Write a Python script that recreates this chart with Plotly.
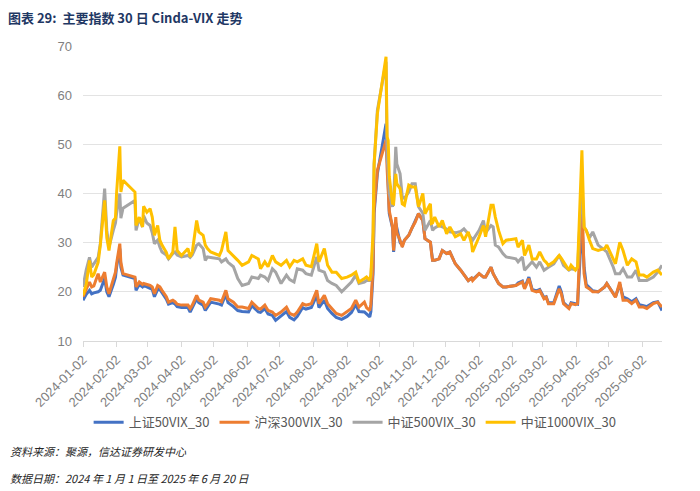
import pandas as pd
import plotly.graph_objects as go

# trading dates sampled from the chart
dates = [
    "2024-01-02", "2024-01-05", "2024-01-08", "2024-01-10", "2024-01-12", "2024-01-16",
    "2024-01-18", "2024-01-22", "2024-01-24", "2024-01-26", "2024-01-30", "2024-02-01",
    "2024-02-02", "2024-02-05", "2024-02-06", "2024-02-08", "2024-02-19", "2024-02-20",
    "2024-02-23", "2024-02-26", "2024-02-27", "2024-03-01", "2024-03-04", "2024-03-06",
    "2024-03-08", "2024-03-11", "2024-03-13", "2024-03-15", "2024-03-19", "2024-03-21",
    "2024-03-25", "2024-03-27", "2024-03-29", "2024-04-02", "2024-04-08", "2024-04-10",
    "2024-04-12", "2024-04-16", "2024-04-18", "2024-04-22", "2024-04-24", "2024-04-26",
    "2024-04-29", "2024-05-07", "2024-05-09", "2024-05-13", "2024-05-15", "2024-05-20",
    "2024-05-24", "2024-05-28", "2024-06-03", "2024-06-06", "2024-06-12", "2024-06-14",
    "2024-06-18", "2024-06-21", "2024-06-25", "2024-06-28", "2024-07-03", "2024-07-08",
    "2024-07-11", "2024-07-15", "2024-07-18", "2024-07-23", "2024-07-26", "2024-07-31",
    "2024-08-05", "2024-08-07", "2024-08-12", "2024-08-15", "2024-08-19", "2024-08-23",
    "2024-08-28", "2024-09-02", "2024-09-06", "2024-09-10", "2024-09-13", "2024-09-18",
    "2024-09-20", "2024-09-23", "2024-09-24", "2024-09-26", "2024-09-27", "2024-09-30",
    "2024-10-08", "2024-10-09", "2024-10-10", "2024-10-11", "2024-10-14", "2024-10-15",
    "2024-10-17", "2024-10-18", "2024-10-21", "2024-10-23", "2024-10-25", "2024-10-29",
    "2024-11-01", "2024-11-04", "2024-11-07", "2024-11-11", "2024-11-13", "2024-11-18",
    "2024-11-19", "2024-11-20", "2024-11-22", "2024-11-26", "2024-11-29", "2024-12-03",
    "2024-12-06", "2024-12-11", "2024-12-16", "2024-12-19", "2024-12-23", "2024-12-26",
    "2024-12-27", "2025-01-02", "2025-01-06", "2025-01-08", "2025-01-13", "2025-01-15",
    "2025-01-17", "2025-01-20", "2025-01-24", "2025-01-27", "2025-02-05", "2025-02-07",
    "2025-02-11", "2025-02-13", "2025-02-17", "2025-02-20", "2025-02-24", "2025-02-27",
    "2025-03-03", "2025-03-05", "2025-03-07", "2025-03-12", "2025-03-17", "2025-03-19",
    "2025-03-21", "2025-03-26", "2025-03-28", "2025-04-01", "2025-04-03", "2025-04-07",
    "2025-04-09", "2025-04-11", "2025-04-14", "2025-04-17", "2025-04-22", "2025-04-28",
    "2025-04-30", "2025-05-06", "2025-05-08", "2025-05-12", "2025-05-15", "2025-05-19",
    "2025-05-23", "2025-05-27", "2025-05-30", "2025-06-03", "2025-06-06", "2025-06-12",
    "2025-06-16", "2025-06-20",
]

sz50 = [
    18.3, 19.5, 20.3, 19.6, 19.8, 20.0, 20.3, 22.7, 20.0, 19.0, 21.5, 23.0,
    25.0, 28.8, 25.0, 23.4, 22.7, 20.3, 21.5, 21.0, 21.3, 21.0, 20.8, 20.5,
    19.0, 20.5, 20.5, 19.8, 18.5, 17.5, 17.8, 17.5, 17.0, 16.8, 16.8, 15.9,
    16.8, 18.6, 17.8, 17.3, 16.2, 17.0, 17.9, 17.5, 17.3, 19.5, 17.8, 17.0,
    16.2, 16.0, 15.9, 17.2, 15.9, 15.8, 16.6, 15.5, 15.2, 14.2, 15.2, 16.0,
    14.8, 14.3, 15.0, 16.8, 16.5, 16.8, 19.3, 16.8, 18.3, 16.6, 15.6, 14.8,
    14.4, 15.0, 15.8, 17.4, 16.0, 15.9, 15.5, 14.9, 16.0, 23.7, 36.0, 44.0,
    54.2, 46.7, 40.0, 35.9, 33.0, 28.1, 34.0, 33.0, 30.0, 29.5, 30.5, 31.5,
    33.0, 34.2, 35.9, 34.5, 30.8, 30.1, 28.0, 26.4, 26.4, 26.7, 28.4, 27.8,
    28.1, 25.7, 24.4, 23.4, 22.3, 22.8, 22.5, 23.7, 23.0, 23.0, 25.0, 23.7,
    23.0, 21.7, 21.0, 21.0, 21.3, 21.8, 22.2, 20.8, 23.0, 20.5, 20.2, 20.5,
    18.8, 19.0, 17.8, 17.8, 21.2, 20.0, 17.8, 16.8, 17.8, 17.5, 17.5, 34.0,
    25.0, 21.5, 20.8, 20.2, 20.0, 21.0, 21.7, 19.8, 19.0, 21.5, 19.0, 18.6,
    18.0, 18.6, 17.4, 17.2, 17.0, 17.8, 18.0, 16.2,
]

hs300 = [
    19.0, 20.5, 22.0, 21.0, 21.2, 23.7, 22.0, 24.0, 21.0, 19.6, 22.3, 24.0,
    25.7, 29.8, 26.0, 23.7, 23.0, 21.0, 22.0, 21.5, 21.7, 21.5, 21.3, 21.0,
    19.6, 21.3, 21.0, 20.3, 19.0, 17.9, 18.3, 18.0, 17.5, 17.3, 17.3, 16.6,
    17.3, 19.3, 18.3, 17.9, 16.9, 17.5, 18.6, 18.3, 18.0, 20.3, 18.6, 17.9,
    16.9, 16.9, 16.6, 17.9, 16.6, 16.5, 17.3, 16.2, 15.9, 15.2, 15.9, 16.9,
    15.6, 15.2, 15.9, 17.6, 17.3, 17.6, 20.3, 17.6, 19.3, 17.6, 16.6, 15.6,
    15.2, 15.9, 16.6, 18.3, 16.9, 17.9, 16.8, 16.2, 17.5, 25.0, 37.0, 44.7,
    50.8, 45.0, 39.3, 36.5, 33.2, 28.4, 35.2, 32.0, 30.5, 29.1, 30.5, 31.5,
    33.0, 34.2, 35.9, 34.5, 30.8, 30.1, 28.0, 26.4, 26.4, 26.7, 28.4, 27.8,
    28.1, 25.7, 24.4, 23.4, 22.3, 22.8, 22.3, 23.7, 23.0, 23.0, 25.0, 23.7,
    23.0, 21.7, 21.0, 21.0, 21.3, 21.5, 22.0, 20.6, 22.7, 20.3, 20.0, 20.3,
    18.6, 18.9, 17.6, 17.6, 20.6, 19.6, 17.6, 16.6, 17.6, 17.4, 17.6, 40.0,
    23.7, 21.0, 20.6, 20.0, 20.0, 21.0, 21.7, 19.6, 18.9, 22.0, 18.3, 18.3,
    17.6, 18.3, 16.9, 16.9, 16.6, 17.6, 17.9, 16.9,
]

zz500 = [
    21.0, 24.5, 27.0, 25.0, 25.7, 27.0, 29.8, 41.0, 32.5, 29.1, 32.5, 34.0,
    35.9, 40.0, 35.0, 37.0, 38.6, 32.5, 35.0, 33.2, 35.5, 34.0, 33.5, 32.0,
    29.8, 30.5, 29.1, 28.1, 27.5, 26.7, 27.8, 28.1, 27.5, 27.1, 27.4, 27.0,
    27.5, 29.5, 29.8, 28.8, 26.4, 27.1, 27.0, 26.7, 26.1, 26.7, 26.0, 25.1,
    22.7, 21.3, 21.7, 23.0, 22.7, 23.4, 23.0, 22.3, 24.7, 24.0, 21.7, 23.4,
    22.5, 22.0, 24.7, 24.4, 23.7, 23.4, 27.1, 24.4, 24.0, 22.3, 21.7, 21.3,
    20.0, 21.0, 22.0, 23.4, 21.7, 22.0, 22.3, 22.3, 23.0, 30.0, 46.0, 56.9,
    66.8, 47.0, 44.7, 40.0, 37.3, 38.5, 49.5, 46.0, 44.0, 39.3, 39.0, 40.3,
    42.0, 42.0, 37.3, 36.0, 32.5, 34.5, 33.5, 32.5, 33.0, 33.5, 33.2, 32.8,
    32.2, 32.0, 32.3, 32.8, 31.8, 31.0, 30.5, 32.5, 34.5, 32.0, 33.5, 33.2,
    29.5, 29.1, 27.8, 27.1, 26.7, 26.1, 27.1, 24.4, 25.4, 26.1, 25.0, 26.1,
    24.4, 24.8, 25.0, 25.7, 27.4, 26.5, 25.4, 24.4, 24.7, 24.5, 25.0, 42.0,
    33.2, 32.5, 31.0, 32.2, 29.5, 28.5, 28.1, 25.0, 23.7, 23.7, 24.7, 23.0,
    23.0, 24.4, 22.3, 22.3, 22.3, 23.0, 24.0, 25.4,
]

zz1000 = [
    19.3, 21.5, 26.4, 23.0, 23.5, 26.0, 29.5, 38.6, 31.0, 28.4, 34.5, 35.0,
    40.0, 49.6, 40.3, 42.7, 40.3, 33.5, 35.2, 33.2, 37.4, 36.2, 36.9, 35.2,
    31.5, 33.5, 30.5, 29.5, 28.0, 26.7, 28.1, 33.2, 28.4, 27.4, 28.8, 27.1,
    28.1, 34.5, 32.2, 31.5, 29.5, 28.8, 28.1, 27.4, 28.4, 32.2, 28.4, 27.4,
    26.4, 25.4, 26.1, 27.4, 26.7, 24.7, 26.1, 25.1, 27.4, 26.1, 25.4, 26.4,
    25.1, 26.4, 26.1, 26.7, 25.4, 25.1, 29.8, 26.1, 28.8, 25.4, 24.0, 24.0,
    22.7, 23.0, 23.4, 24.0, 22.0, 22.7, 23.0, 22.3, 23.5, 32.0, 46.0, 56.2,
    67.8, 51.5, 50.8, 43.4, 38.0, 37.9, 44.0, 42.0, 41.0, 37.9, 37.6, 41.7,
    41.3, 41.3, 37.3, 40.0, 35.9, 37.9, 33.9, 34.0, 35.2, 33.2, 34.5, 31.8,
    33.2, 31.2, 31.8, 30.5, 32.2, 29.8, 28.1, 31.2, 33.5, 31.2, 37.6, 37.6,
    35.2, 32.5, 29.8, 30.5, 30.8, 29.1, 30.5, 27.4, 29.5, 26.7, 26.7, 28.1,
    26.4, 26.0, 25.4, 26.1, 27.4, 26.8, 26.1, 24.4, 25.4, 24.4, 25.0, 48.8,
    33.2, 32.5, 30.5, 28.8, 28.4, 28.8, 29.5, 26.7, 25.7, 30.1, 28.4, 25.4,
    26.7, 26.1, 23.4, 23.4, 23.0, 24.0, 24.4, 23.4,
]

series = [
    ("上证50VIX_30", sz50, "#4472C4"),
    ("沪深300VIX_30", hs300, "#ED7D31"),
    ("中证500VIX_30", zz500, "#A5A5A5"),
    ("中证1000VIX_30", zz1000, "#FFC000"),
]

x = pd.to_datetime(dates)
fig = go.Figure()
for name, vals, color in series:
    fig.add_trace(go.Scatter(x=x, y=vals, mode="lines", name=name,
                             line=dict(color=color, width=3)))

cjk = "Noto Sans CJK SC, Liberation Sans, sans-serif"

# page body adds an 8px margin, so the figure is shifted by 8px
fig.update_layout(
    width=692, height=483,
    margin=dict(l=75, r=38, t=38, b=150),
    paper_bgcolor="white", plot_bgcolor="white",
    font=dict(family=cjk, color="#595959"),
    title=dict(text="<b>图表 29:  主要指数 30 日 Cinda-VIX 走势</b>",
               x=0, xref="container", xanchor="left",
               y=1 - 10 / 483, yref="container", yanchor="middle",
               font=dict(size=13, color="#1F3864", family=cjk)),
    legend=dict(orientation="h", x=0.47, xanchor="center", y=-0.276, yanchor="middle",
                font=dict(size=13, color="#595959"), itemwidth=30),
    showlegend=True,
)

fig.update_xaxes(
    type="date", range=["2024-01-02", "2025-06-20"],
    tick0="2024-01-02", dtick="M1", tickformat="%Y-%m-%d", tickangle=-45,
    ticks="outside", ticklen=5, tickcolor="#D9D9D9",
    showline=True, linecolor="#D9D9D9", linewidth=1, showgrid=False,
    tickfont=dict(size=13, color="#7F7F7F", family="Liberation Sans, sans-serif"),
)
fig.update_yaxes(
    range=[10, 70], dtick=10, showgrid=True, gridcolor="#E3E3E3", zeroline=False,
    ticklabelstandoff=10,
    tickfont=dict(size=13, color="#7F7F7F", family="Liberation Sans, sans-serif"),
)

fig.add_annotation(text="<i>资料来源：聚源，信达证券研发中心</i>", xref="paper", yref="paper",
                   x=-0.129, y=-0.374, xanchor="left", yanchor="middle", showarrow=False,
                   font=dict(size=11, color="#262626", family=cjk))
fig.add_annotation(text="<i>数据日期：2024 年 1 月 1 日至 2025 年 6 月 20 日</i>", xref="paper", yref="paper",
                   x=-0.129, y=-0.465, xanchor="left", yanchor="middle", showarrow=False,
                   font=dict(size=11, color="#262626", family=cjk))

fig.write_html("out.html")
